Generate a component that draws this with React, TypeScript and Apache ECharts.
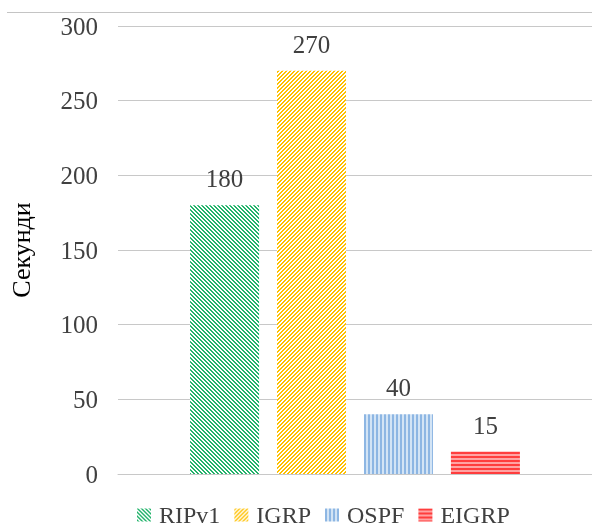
import React, { useEffect, useRef } from "react";
import * as echarts from "echarts";

const seriesNames = ["RIPv1", "IGRP", "OSPF", "EIGRP"];
const seriesValues = [180, 270, 40, 15];
const categories = [""];
const yTicks = [0, 50, 100, 150, 200, 250, 300];

function makePattern(size: number, fg: string, bg: string, fn: (x: number, y: number) => boolean) {
  const c = document.createElement("canvas");
  c.width = size;
  c.height = size;
  const ctx = c.getContext("2d")!;
  ctx.fillStyle = bg;
  ctx.fillRect(0, 0, size, size);
  ctx.fillStyle = fg;
  for (let x = 0; x < size; x++) {
    for (let y = 0; y < size; y++) {
      if (fn(x, y)) ctx.fillRect(x, y, 1, 1);
    }
  }
  return { image: c, repeat: "repeat" } as any;
}

export default function App() {
  const ref = useRef<HTMLDivElement>(null);
  useEffect(() => {
    if (!ref.current) return;
    const chart = echarts.init(ref.current, undefined, { renderer: "svg" });
    const patterns = [
      makePattern(4, "#22b36a", "#ffffff", (x, y) => ((x - y + 8) % 4) < 2),
      makePattern(4, "#ffc000", "#ffffff", (x, y) => ((x + y) % 4) < 2),
      makePattern(4, "#8db6e3", "#d3e4f5", (x) => x < 2),
      makePattern(4, "#ff3d3d", "#ffa3a3", (_x, y) => y < 2),
    ];
    const font = "Liberation Serif";
    chart.setOption({
      animation: false,
      textStyle: { fontFamily: font },
      grid: { left: 115, right: 0, top: 26, bottom: 53, containLabel: false },
      graphic: [
        {
          type: "line",
          shape: { x1: 7, y1: 12.5, x2: 592, y2: 12.5 },
          style: { stroke: "#c4c4c4", lineWidth: 1 },
        },
      ],
      legend: {
        data: seriesNames,
        left: 137,
        top: 503,
        padding: 0,
        itemWidth: 14,
        itemHeight: 13,
        itemGap: 14,
        icon: "rect",
        textStyle: { fontFamily: font, fontSize: 24, color: "#404040", padding: [0, 0, 0, 3] },
      },
      xAxis: {
        type: "category",
        data: categories,
        axisLine: { show: true, lineStyle: { color: "#c8c8c8", width: 1 } },
        axisTick: { show: false },
        axisLabel: { show: false },
      },
      yAxis: {
        type: "value",
        min: yTicks[0],
        max: yTicks[yTicks.length - 1],
        interval: 50,
        name: "Секунди",
        nameLocation: "middle",
        nameGap: 84,
        nameTextStyle: { fontFamily: font, fontSize: 26, color: "#000000" },
        axisLine: { show: false },
        axisTick: { show: false },
        axisLabel: { fontFamily: font, fontSize: 25, color: "#404040", margin: 20 },
        splitLine: { lineStyle: { color: "#c8c8c8", width: 1 } },
      },
      series: seriesNames.map((name, i) => ({
        name,
        type: "bar",
        data: [seriesValues[i]],
        barWidth: 69,
        barGap: "26%",
        itemStyle: { color: patterns[i] },
        label: {
          show: true,
          position: "top",
          distance: 14,
          fontFamily: font,
          fontSize: 25,
          color: "#404040",
        },
      })),
    });
    return () => chart.dispose();
  }, []);
  return <div ref={ref} style={{ position: "fixed", left: 0, top: 0, width: 592, height: 527 }} />;
}
